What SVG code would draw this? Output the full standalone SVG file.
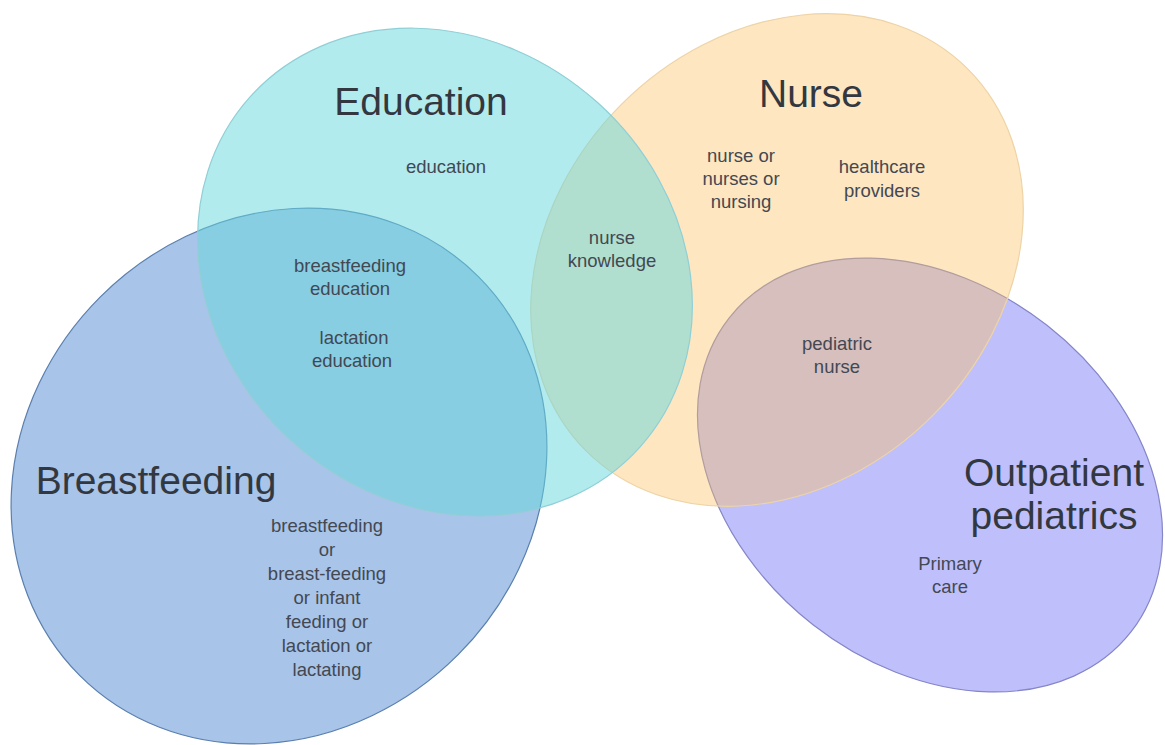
<svg xmlns="http://www.w3.org/2000/svg" width="1165" height="745" viewBox="0 0 1165 745">
  <style>
    .set { stroke-width: 1.2; }
    .title { font-family: "Liberation Sans", Arial, sans-serif; font-size: 39px; fill: #333840; text-anchor: middle; }
    .term { font-family: "Liberation Sans", Arial, sans-serif; font-size: 18.5px; fill: #434852; text-anchor: middle; }
  </style>
  <rect width="1165" height="745" fill="#ffffff"/>

  <!-- Venn sets, bottom to top; translucent fills mix where they overlap -->
  <g id="set-breastfeeding">
    <ellipse class="set" cx="279" cy="476" rx="282" ry="253" transform="rotate(-45 279 476)" fill="rgb(81,137,209)" fill-opacity="0.5" stroke="#5a7fae"/>
  </g>
  <g id="set-outpatient">
    <ellipse class="set" cx="930" cy="475" rx="255" ry="190" transform="rotate(38 930 475)" fill="rgb(127,129,247)" fill-opacity="0.5" stroke="#8486c8"/>
  </g>
  <g id="set-nurse">
    <ellipse class="set" cx="777" cy="260" rx="270" ry="220" transform="rotate(-45 777 260)" fill="rgb(250,191,93)" fill-opacity="0.39" stroke="#eed3a6"/>
  </g>
  <g id="set-education">
    <ellipse class="set" cx="445" cy="272" rx="262" ry="228" transform="rotate(42 445 272)" fill="rgb(101,215,221)" fill-opacity="0.5" stroke="#8fcfd6"/>
  </g>

  <!-- Set titles -->
  <g id="title-education"><text class="title" x="421" y="115">Education</text></g>
  <g id="title-nurse"><text class="title" x="811" y="107">Nurse</text></g>
  <g id="title-breastfeeding"><text class="title" x="156" y="494">Breastfeeding</text></g>
  <g id="title-outpatient">
    <text class="title" x="1054" y="486">Outpatient</text>
    <text class="title" x="1054" y="529">pediatrics</text>
  </g>

  <!-- Search terms inside each region -->
  <g id="terms-education"><text class="term" x="446" y="173">education</text></g>
  <g id="terms-education-nurse">
    <text class="term" x="612" y="244">nurse</text>
    <text class="term" x="612" y="267">knowledge</text>
  </g>
  <g id="terms-education-breastfeeding">
    <text class="term" x="350" y="272">breastfeeding</text>
    <text class="term" x="350" y="295">education</text>
    <text class="term" x="354" y="344">lactation</text>
    <text class="term" x="352" y="367">education</text>
  </g>
  <g id="terms-breastfeeding">
    <text class="term" x="327" y="532">breastfeeding</text>
    <text class="term" x="327" y="556">or</text>
    <text class="term" x="327" y="580">breast-feeding</text>
    <text class="term" x="327" y="604">or infant</text>
    <text class="term" x="327" y="628">feeding or</text>
    <text class="term" x="327" y="652">lactation or</text>
    <text class="term" x="327" y="676">lactating</text>
  </g>
  <g id="terms-nurse">
    <text class="term" x="741" y="162">nurse or</text>
    <text class="term" x="741" y="185">nurses or</text>
    <text class="term" x="741" y="208">nursing</text>
    <text class="term" x="882" y="173">healthcare</text>
    <text class="term" x="882" y="197">providers</text>
  </g>
  <g id="terms-nurse-outpatient">
    <text class="term" x="837" y="350">pediatric</text>
    <text class="term" x="837" y="373">nurse</text>
  </g>
  <g id="terms-outpatient">
    <text class="term" x="950" y="570">Primary</text>
    <text class="term" x="950" y="593">care</text>
  </g>
</svg>
